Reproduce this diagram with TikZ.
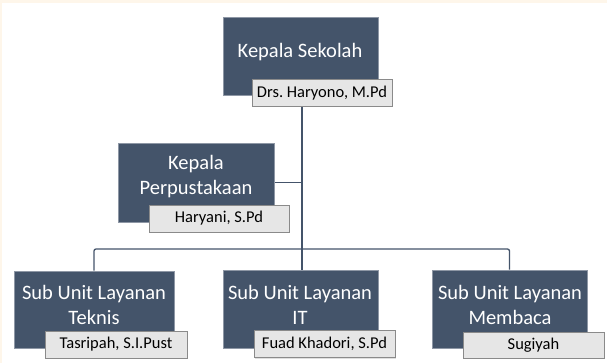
\documentclass[tikz,border=0pt]{standalone}
\usepackage{fontspec}
\setmainfont{Carlito}
\usetikzlibrary{backgrounds,shadows}
\definecolor{boxblue}{HTML}{44546A}
\definecolor{boxrim}{HTML}{8E97A5}
\definecolor{tagfill}{HTML}{E6E6E6}
\definecolor{tagrim}{HTML}{8A8A8A}
\definecolor{cream}{HTML}{FEF6EA}
\frenchspacing

\begin{document}
\begin{tikzpicture}[x=1pt,y=-1pt,
    unitbox/.style={draw=boxrim,line width=0.8pt,fill=boxblue,minimum width=155pt,minimum height=78pt,inner sep=0pt},
    title/.style={text=white,font=\fontsize{20.5}{25}\selectfont,align=center,inner sep=0pt},
    nametag/.style={draw=tagrim,line width=0.8pt,fill=tagfill,minimum width=140pt,minimum height=27pt,inner sep=0pt,
        font=\fontsize{16.5}{18}\selectfont,drop shadow={opacity=0.25,shadow xshift=1pt,shadow yshift=-1pt}},
    link/.style={draw=boxblue,line width=1.3pt}]
    \useasboundingbox (0,0) rectangle (607,363);

    % kepala sekolah
    \node[unitbox] (ks) at (300.5,56.5) {};
    \node[title] (ksT) at (300,52) {Kepala Sekolah};
    \node[nametag] (ksL) at (322,93) {Drs. Haryono, M.Pd};

    % kepala perpustakaan
    \node[unitbox,minimum width=156pt,minimum height=79pt] (kp) at (196,182.5) {};
    \node[title] (kpT) at (196,177) {Kepala\\Perpustakaan};
    \node[nametag] (kpL) at (219,218.5) {Haryani, S.Pd};

    % sub unit
    \node[unitbox,minimum width=160pt,minimum height=77pt] (tk) at (94,309.5) {};
    \node[title] (tkT) at (94,305) {Sub Unit Layanan\\Teknis};
    \node[nametag,minimum width=142pt] (tkL) at (116,344.5) {Tasripah, S.I.Pust};

    \node[unitbox] (it) at (300.5,309) {};
    \node[title] (itT) at (300,305) {Sub Unit Layanan\\IT};
    \node[nametag,minimum width=141pt] (itL) at (324.5,344) {Fuad Khadori, S.Pd};

    \node[unitbox] (mb) at (509.5,309) {};
    \node[title] (mbT) at (510,305) {Sub Unit Layanan\\Membaca};
    \node[nametag,minimum width=141pt,minimum height=26pt] (mbL) at (533.5,345) {Sugiyah};

    \coordinate (hub) at (302,249);

    \begin{scope}[on background layer]
        \fill[cream] (0,0) rectangle (607,363);
        \fill[white] (2,3) rectangle (607,363);
        \draw[link] (hub |- ks.center) -- (hub);
        \draw[link] (kp.east) -- (kp.east -| hub);
        \draw[link,rounded corners=2pt] (tk.north) |- (hub) -| (mb.north);
        \draw[link] (hub) -- (hub |- it.north);
    \end{scope}
\end{tikzpicture}
\end{document}
